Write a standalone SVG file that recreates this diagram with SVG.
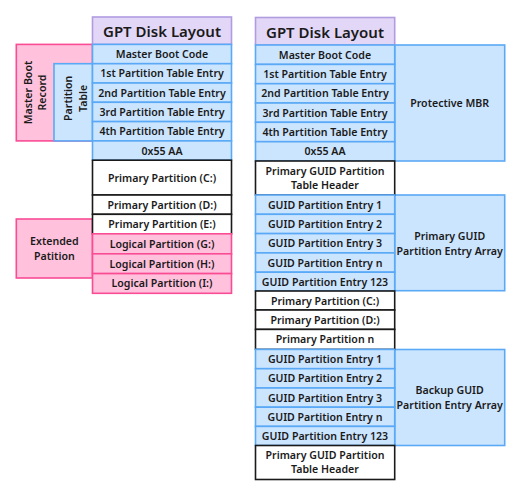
<svg xmlns="http://www.w3.org/2000/svg" width="528" height="504" viewBox="0 0 528 504">
<style>
text{font-family:"Noto Sans","Open Sans","Liberation Sans",sans-serif;font-weight:600;font-size:10.6px;fill:#1a1a1a;text-anchor:middle;dominant-baseline:central}
.h{font-size:15px;font-weight:600}
.b{fill:#cce5ff;stroke:#5aa9f6;stroke-width:1.6}
.w{fill:#ffffff;stroke:#1a1a1a;stroke-width:1.6}
.p{fill:#ffc1dc;stroke:#f94c95;stroke-width:1.6}
.v{fill:#e2d7f7;stroke:#b19ce0;stroke-width:1.6}
</style>
<g id="mbr-group"><rect class="p" x="16.3" y="44.4" width="76.2" height="96.5"/><text transform="translate(34.5,92.5) rotate(-90)"><tspan x="0" dy="-7">Master Boot</tspan><tspan x="0" dy="14.4">Record</tspan></text></g>
<g id="pt-group"><rect class="b" x="54" y="63.7" width="38.5" height="77.2"/><text transform="translate(75.5,98.3) rotate(-90)"><tspan x="0" dy="-7.7">Partition</tspan><tspan x="0" dy="15.5">Table</tspan></text></g>
<g id="ext-group"><rect class="p" x="16.3" y="219" width="76.2" height="59"/><text x="54.4" y="240.7">Extended</text><text x="54.4" y="255.5">Patition</text></g>
<g id="left-col">
<g id="l-head"><rect class="v" x="92.5" y="17" width="139" height="27.4"/><text class="h" x="162" y="31">GPT Disk Layout</text></g>
<g id="l1"><rect class="b" x="92.5" y="44.4" width="139" height="19.3"/><text x="162" y="54">Master Boot Code</text></g>
<g id="l2"><rect class="b" x="92.5" y="63.7" width="139" height="19.3"/><text x="162" y="73.3">1st Partition Table Entry</text></g>
<g id="l3"><rect class="b" x="92.5" y="83" width="139" height="19.3"/><text x="162" y="92.6">2nd Partition Table Entry</text></g>
<g id="l4"><rect class="b" x="92.5" y="102.3" width="139" height="19.3"/><text x="162" y="111.9">3rd Partition Table Entry</text></g>
<g id="l5"><rect class="b" x="92.5" y="121.6" width="139" height="19.3"/><text x="162" y="131.2">4th Partition Table Entry</text></g>
<g id="l6"><rect class="b" x="92.5" y="140.9" width="139" height="19.3"/><text x="162" y="150.5">0x55 AA</text></g>
<g id="l7"><rect class="w" x="92.5" y="160.2" width="139" height="34.8"/><text x="162" y="177.6">Primary Partition (C:)</text></g>
<g id="l8"><rect class="w" x="92.5" y="195" width="139" height="19.3"/><text x="162" y="204.6">Primary Partition (D:)</text></g>
<g id="l9"><rect class="w" x="92.5" y="214.3" width="139" height="19.5"/><text x="162" y="224">Primary Partition (E:)</text></g>
<g id="l10"><rect class="p" x="92.5" y="233.8" width="139" height="20"/><text x="162" y="243.8">Logical Partition (G:)</text></g>
<g id="l11"><rect class="p" x="92.5" y="253.8" width="139" height="19.8"/><text x="162" y="263.7">Logical Partition (H:)</text></g>
<g id="l12"><rect class="p" x="92.5" y="273.6" width="139" height="19.7"/><text x="162" y="283.4">Logical Partition (I:)</text></g>
</g>
<g id="pmbr-group"><rect class="b" x="394.7" y="45" width="110" height="116"/><text x="449.7" y="103">Protective MBR</text></g>
<g id="parr-group"><rect class="b" x="394.7" y="195" width="110" height="95.7"/><text x="449.7" y="235.5">Primary GUID</text><text x="449.7" y="250.5">Partition Entry Array</text></g>
<g id="barr-group"><rect class="b" x="394.7" y="349.5" width="110" height="96"/><text x="449.7" y="390">Backup GUID</text><text x="449.7" y="405">Partition Entry Array</text></g>
<g id="right-col">
<g id="r-head"><rect class="v" x="255.5" y="17.5" width="139.2" height="27.5"/><text class="h" x="325" y="31.5">GPT Disk Layout</text></g>
<g id="r1"><rect class="b" x="255.5" y="45" width="139.2" height="19.4"/><text x="325" y="54.7">Master Boot Code</text></g>
<g id="r2"><rect class="b" x="255.5" y="64.4" width="139.2" height="19.3"/><text x="325" y="74">1st Partition Table Entry</text></g>
<g id="r3"><rect class="b" x="255.5" y="83.7" width="139.2" height="19.3"/><text x="325" y="93.3">2nd Partition Table Entry</text></g>
<g id="r4"><rect class="b" x="255.5" y="103" width="139.2" height="19.3"/><text x="325" y="112.6">3rd Partition Table Entry</text></g>
<g id="r5"><rect class="b" x="255.5" y="122.3" width="139.2" height="19.4"/><text x="325" y="132">4th Partition Table Entry</text></g>
<g id="r6"><rect class="b" x="255.5" y="141.7" width="139.2" height="19.3"/><text x="325" y="151.3">0x55 AA</text></g>
<g id="r7"><rect class="w" x="255.5" y="161" width="139.2" height="34"/><text x="325" y="170.5">Primary GUID Partition</text><text x="325" y="184.8">Table Header</text></g>
<g id="r8"><rect class="b" x="255.5" y="195" width="139.2" height="19.3"/><text x="325" y="204.6">GUID Partition Entry 1</text></g>
<g id="r9"><rect class="b" x="255.5" y="214.3" width="139.2" height="19.3"/><text x="325" y="223.9">GUID Partition Entry 2</text></g>
<g id="r10"><rect class="b" x="255.5" y="233.6" width="139.2" height="19.3"/><text x="325" y="243.2">GUID Partition Entry 3</text></g>
<g id="r11"><rect class="b" x="255.5" y="252.9" width="139.2" height="19.3"/><text x="325" y="262.5">GUID Partition Entry n</text></g>
<g id="r12"><rect class="b" x="255.5" y="272.2" width="139.2" height="18.8"/><text x="325" y="281.6">GUID Partition Entry 123</text></g>
<g id="r13"><rect class="w" x="255.5" y="291" width="139.2" height="19"/><text x="325" y="300.5">Primary Partition (C:)</text></g>
<g id="r14"><rect class="w" x="255.5" y="310" width="139.2" height="19.4"/><text x="325" y="319.7">Primary Partition (D:)</text></g>
<g id="r15"><rect class="w" x="255.5" y="329.4" width="139.2" height="20"/><text x="325" y="339.4">Primary Partition n</text></g>
<g id="r16"><rect class="b" x="255.5" y="349.4" width="139.2" height="19.3"/><text x="325" y="359">GUID Partition Entry 1</text></g>
<g id="r17"><rect class="b" x="255.5" y="368.7" width="139.2" height="19.3"/><text x="325" y="378.3">GUID Partition Entry 2</text></g>
<g id="r18"><rect class="b" x="255.5" y="388" width="139.2" height="19.2"/><text x="325" y="397.6">GUID Partition Entry 3</text></g>
<g id="r19"><rect class="b" x="255.5" y="407.2" width="139.2" height="19.2"/><text x="325" y="416.8">GUID Partition Entry n</text></g>
<g id="r20"><rect class="b" x="255.5" y="426.4" width="139.2" height="19.1"/><text x="325" y="436">GUID Partition Entry 123</text></g>
<g id="r21"><rect class="w" x="255.5" y="445.5" width="139.2" height="34"/><text x="325" y="455">Primary GUID Partition</text><text x="325" y="469.3">Table Header</text></g>
</g>
</svg>
